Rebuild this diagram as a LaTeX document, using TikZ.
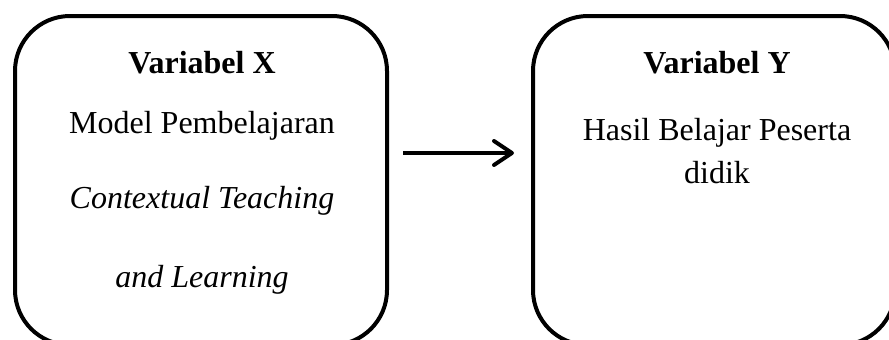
\documentclass[tikz,border=0pt]{standalone}
\usepackage{fontspec}
\setmainfont{Liberation Serif}
\usetikzlibrary{arrows.meta}
\tikzset{
  varbox/.style={draw=black, line width=4pt, rounded corners=55pt, rectangle, inner sep=0pt},
  txt/.style={anchor=base, inner sep=0pt, font=\fontsize{32}{38}\selectfont},
  conn/.style={line width=4pt, -{Straight Barb[length=18pt,width=24pt,round]}}
}
\begin{document}
\begin{tikzpicture}[x=1pt,y=-1pt]
\useasboundingbox (0,0) rectangle (889,340);
\clip (0,0) rectangle (889,340);
\node[varbox, minimum width=372pt, minimum height=329pt] (bx) at (201,180.5) {};
\node[varbox, minimum width=362pt, minimum height=329pt] (by) at (714,180.5) {};
\node[txt, font=\fontsize{32}{38}\selectfont\bfseries] (tx1) at (202,73) {Variabel X};
\node[txt] (tx2) at (202,133) {Model Pembelajaran};
\node[txt] (tx3) at (202,208) {\itshape Contextual Teaching};
\node[txt] (tx4) at (202,287) {\itshape and Learning};
\node[txt, font=\fontsize{32}{38}\selectfont\bfseries] (ty1) at (717,73) {Variabel Y};
\node[txt] (ty2) at (717,140) {Hasil Belajar Peserta};
\node[txt] (ty3) at (717,183) {didik};
\coordinate (a1) at (403,153);
\coordinate (a2) at (514,153);
\draw[conn] (a1) -- (a2);
\end{tikzpicture}
\end{document}
